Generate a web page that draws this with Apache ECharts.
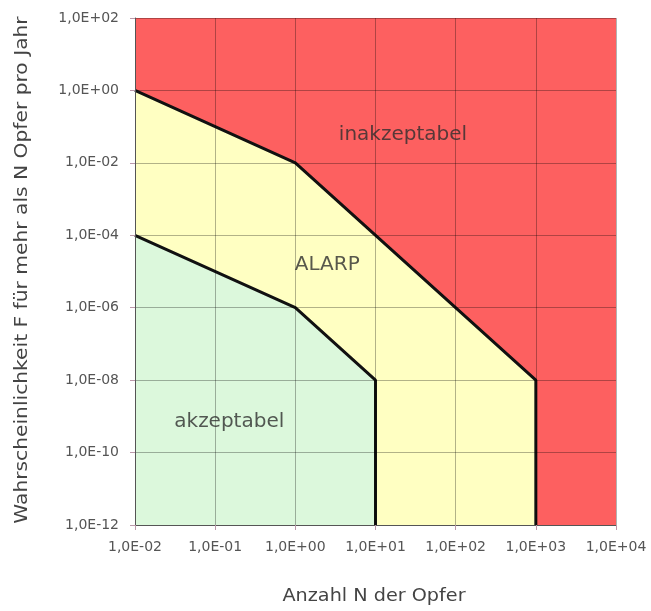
<!DOCTYPE html>
<html><head><meta charset="utf-8">
<script src="https://cdn.jsdelivr.net/npm/echarts@6/dist/echarts.min.js"></script>
<style>html,body{margin:0;padding:0;background:#fff}#c{width:651px;height:611px}</style>
</head><body><div id="c"></div>
<script>
// Upper limit line (ALARP / inakzeptabel boundary)
const upperN = [0.01, 1, 1000, 1000];
const upperF = [1, 0.01, 1e-8, 1e-12];
// Lower limit line (akzeptabel / ALARP boundary)
const lowerN = [0.01, 1, 10, 10];
const lowerF = [1e-4, 1e-6, 1e-8, 1e-12];
// Region labels
const regionNames = ['inakzeptabel', 'ALARP', 'akzeptabel'];
const regionN = [22, 2.5, 0.15];
const regionF = [0.06, 1.5e-5, 7e-10];
const xTitle = 'Anzahl N der Opfer';
const yTitle = 'Wahrscheinlichkeit F für mehr als N Opfer pro Jahr';

function fmt(v){
  const e = Math.round(Math.log10(v));
  const s = e < 0 ? '-' : '+';
  const a = Math.abs(e);
  return '1,0E' + s + (a < 10 ? '0' + a : '' + a);
}
const font = 'DejaVu Sans';
const chart = echarts.init(document.getElementById('c'));
chart.setOption({
  animation: false,
  grid: {left: 135, right: 35, top: 18, bottom: 86, show: true, backgroundColor: '#fd6060', borderWidth: 0},
  graphic: [
    {type: 'text', x: 23, y: 270, rotation: Math.PI / 2, scaleX: 1.19, scaleY: 1, silent: true,
      style: {text: yTitle, font: '17px "DejaVu Sans"', fill: '#444', textAlign: 'center', textVerticalAlign: 'middle'}},
    {type: 'text', x: 374, y: 597, scaleX: 1.13, silent: true,
      style: {text: xTitle, font: '17px "DejaVu Sans"', fill: '#444', textAlign: 'center', textVerticalAlign: 'middle'}}
  ],
  xAxis: {
    type: 'log', logBase: 10, min: 0.01, max: 10000, interval: 1, z: 5,
    axisLine: {show: true, lineStyle: {color: '#555', width: 1}},
    axisTick: {show: true, length: 5, lineStyle: {color: '#b9a'}},
    axisLabel: {formatter: fmt, fontFamily: font, fontSize: 14, color: '#555', margin: 15},
    splitLine: {show: true, lineStyle: {color: 'rgba(0,0,0,0.3)', width: 1}},
    minorTick: {show: false}
  },
  yAxis: {
    type: 'log', logBase: 10, min: 1e-12, max: 100, interval: 2, z: 5,
    axisLine: {show: true, lineStyle: {color: '#555', width: 1}},
    axisTick: {show: true, length: 5, lineStyle: {color: '#b9a'}},
    axisLabel: {formatter: fmt, fontFamily: font, fontSize: 14, color: '#555', margin: 16},
    splitLine: {show: true, lineStyle: {color: 'rgba(0,0,0,0.3)', width: 1}}
  },
  series: [
    {
      type: 'line', z: 2, symbol: 'none', silent: true,
      data: upperN.map((n, i) => [n, upperF[i]]),
      lineStyle: {color: '#111', width: 3},
      areaStyle: {color: '#ffffc2', opacity: 1, origin: 'start'}
    },
    {
      type: 'line', z: 3, symbol: 'none', silent: true,
      data: lowerN.map((n, i) => [n, lowerF[i]]),
      lineStyle: {color: '#111', width: 3},
      areaStyle: {color: '#dcf8dc', opacity: 1, origin: 'start'}
    },
    {
      type: 'scatter', z: 6, symbolSize: 0, silent: true,
      data: regionN.map((n, i) => ({value: [n, regionF[i]], name: regionNames[i]})),
      label: {show: true, position: 'inside', formatter: p => p.name,
        fontFamily: font, fontSize: 20, color: '#2e2e2e'}
    }
  ]
});
</script></body></html>
